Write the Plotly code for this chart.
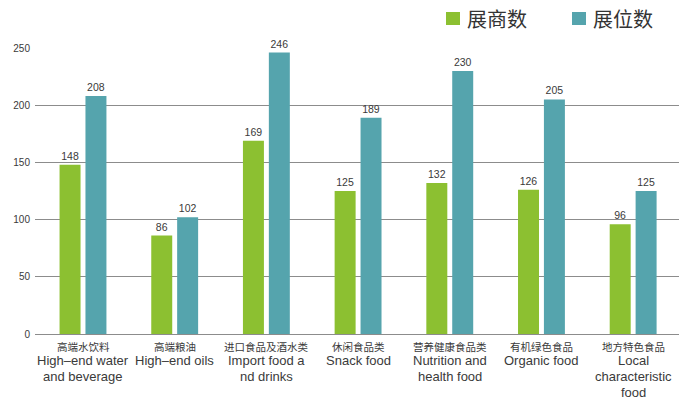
import plotly.graph_objects as go

categories = ["c1", "c2", "c3", "c4", "c5", "c6", "c7"]
cn_labels = ["高端水饮料", "高端粮油", "进口食品及酒水类", "休闲食品类", "营养健康食品类", "有机绿色食品", "地方特色食品"]
en_labels = ["High–end water<br>and beverage", "High–end oils", "Import food a<br>nd drinks", "Snack food",
             "Nutrition and<br>health food", "Organic food", "Local<br>characteristic<br>food"]
exhibitors = [148, 86, 169, 125, 132, 126, 96]
booths = [208, 102, 246, 189, 230, 205, 125]
series_names = ["展商数", "展位数"]
y_ticks = [0, 50, 100, 150, 200, 250]

GREEN = "#8cc031"
TEAL = "#55a4ad"
TXT = "#3a3a3a"
EN_FONT = "Liberation Sans, Arial, sans-serif"
CN_FONT = "Noto Sans CJK SC, sans-serif"

fig = go.Figure()
for name, vals, col in [(series_names[0], exhibitors, GREEN), (series_names[1], booths, TEAL)]:
    fig.add_trace(go.Bar(
        x=categories, y=vals, name=name, marker=dict(color=col, line=dict(width=0)),
        text=[str(v) for v in vals], textposition="outside",
        textfont=dict(family=EN_FONT, size=10.5, color=TXT), cliponaxis=False,
        showlegend=False,
    ))

annotations = []
for c, cn, en in zip(categories, cn_labels, en_labels):
    annotations.append(dict(x=c, xref="x", y=0, yref="paper", yanchor="top", yshift=-3,
                            text=cn, showarrow=False,
                            font=dict(family=CN_FONT, size=10.5, color=TXT)))
    for i, line in enumerate(en.split("<br>")):
        annotations.append(dict(x=c, xref="x", y=0, yref="paper", yanchor="top", yshift=-17 - 16 * i,
                                text=line, showarrow=False,
                                font=dict(family=EN_FONT, size=13, color=TXT)))

# manual legend
shapes = []
leg_items = [(series_names[0], GREEN, 446), (series_names[1], TEAL, 572)]
for name, col, px in leg_items:
    shapes.append(dict(type="rect", xref="paper", yref="paper",
                       x0=(px - 35) / 644, x1=(px + 14 - 35) / 644,
                       y0=1 + (48 - 25) / 286, y1=1 + (48 - 12) / 286,
                       fillcolor=col, line=dict(width=0)))
    annotations.append(dict(x=(px + 19 - 35) / 644, xref="paper", xanchor="left",
                            y=1 + (48 - 18.5) / 286, yref="paper", yanchor="middle",
                            text=name, showarrow=False,
                            font=dict(family=CN_FONT, size=20, color="#333333")))

fig.update_layout(
    width=690, height=399,
    margin=dict(l=35, r=11, t=48, b=65),
    paper_bgcolor="white", plot_bgcolor="white",
    barmode="group", bargap=0.435, bargroupgap=0.19,
    annotations=annotations, shapes=shapes,
    xaxis=dict(showticklabels=False, showgrid=False, zeroline=False, showline=False, ticks=""),
    yaxis=dict(range=[0, 250], tickvals=y_ticks, showgrid=True, gridcolor="#8c8c8c", gridwidth=1,
               zeroline=True, zerolinecolor="#8c8c8c", zerolinewidth=1, showline=False,
               tickfont=dict(family=EN_FONT, size=10, color=TXT), ticks="", ticklabelstandoff=4),
)

fig.write_html("out.html")
